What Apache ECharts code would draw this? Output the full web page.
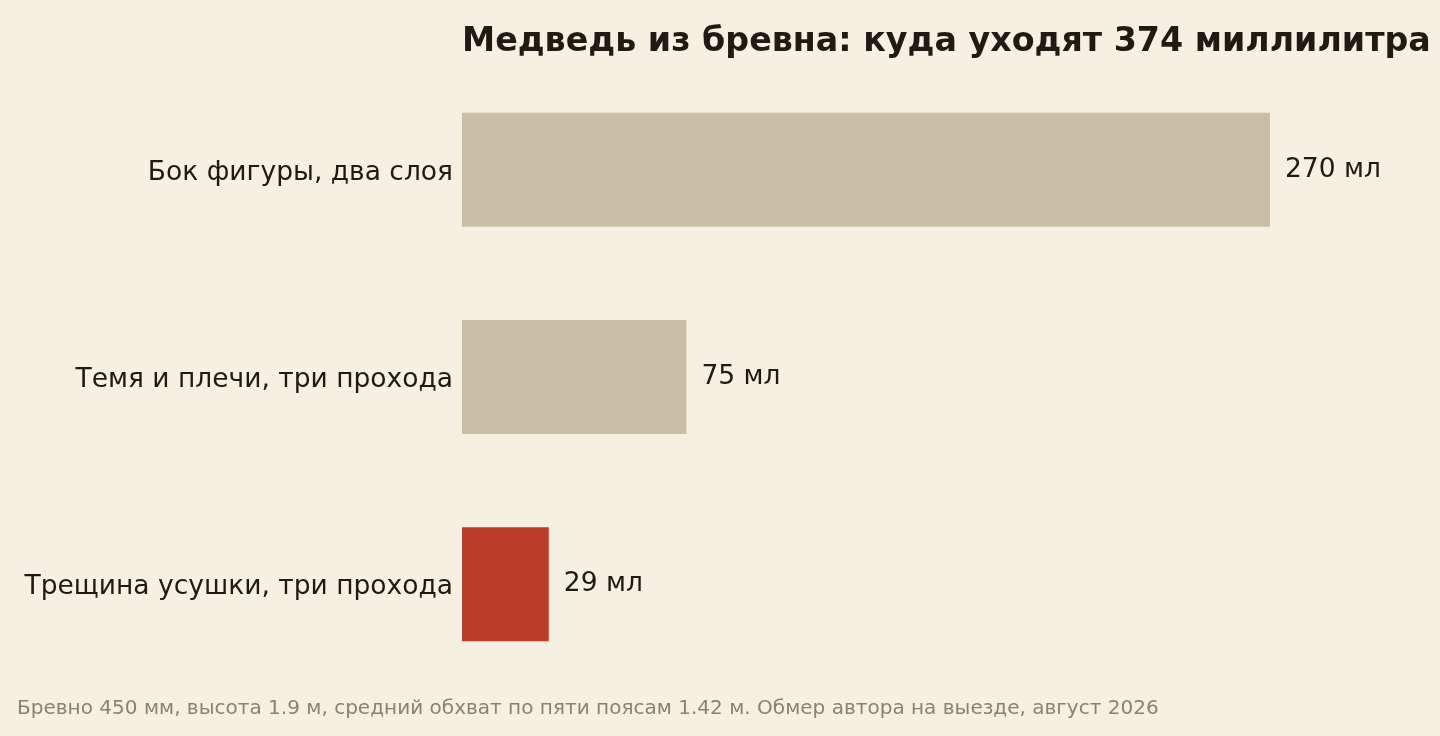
<!DOCTYPE html>
<html>
<head>
<meta charset="UTF-8">
<title>Медведь из бревна</title>
<script src="https://cdn.jsdelivr.net/npm/echarts@6/dist/echarts.min.js"></script>
<style>
    html, body { margin: 0; padding: 0; background: #f6f0e3; }
    #chart { width: 1440px; height: 736px; }
</style>
</head>
<body>
<div id="chart"></div>
<script>
    // данные
    var categories = ['Бок фигуры, два слоя', 'Темя и плечи, три прохода', 'Трещина усушки, три прохода'];
    var values = [270, 75, 29];
    var barColors = ['#c9bfa7', '#c9bfa7', '#bc3d27'];

    var chart = echarts.init(document.getElementById('chart'));
    var option = {
        backgroundColor: '#f6f0e3',
        textStyle: { fontFamily: 'DejaVu Sans' },
        title: [{
            text: 'Медведь из бревна: куда уходят 374 миллилитра',
            left: 457,
            top: 21,
            textStyle: { fontFamily: 'DejaVu Sans', fontSize: 33.3, fontWeight: 'bold', color: '#1f1a12' }
        }, {
            text: 'Бревно 450 мм, высота 1.9 м, средний обхват по пяти поясам 1.42 м. Обмер автора на выезде, август 2026',
            left: 12,
            top: 694,
            textStyle: { fontFamily: 'DejaVu Sans', fontSize: 20.05, fontWeight: 'normal', color: '#8a8272' }
        }],
        grid: { left: 462, right: 170, top: 66, bottom: 48, containLabel: false },
        xAxis: {
            type: 'value',
            min: 0,
            max: 270,
            show: false
        },
        yAxis: {
            type: 'category',
            data: categories,
            inverse: true,
            axisLine: { show: false },
            axisTick: { show: false },
            axisLabel: {
                margin: 9,
                formatter: function (v) { return '{c|' + v + '}'; },
                rich: {
                    c: { fontSize: 26.5, color: '#1f1a12', fontFamily: 'DejaVu Sans', padding: [6, 0, 0, 0] }
                }
            }
        },
        series: [{
            type: 'bar',
            barWidth: '55%',
            data: values.map(function (v, i) {
                return { value: v, itemStyle: { color: barColors[i] } };
            }),
            label: {
                show: true,
                position: 'right',
                distance: 15,
                fontSize: 26.5,
                color: '#1f1a12',
                formatter: '{c} мл'
            },
            silent: true
        }]
    };
    chart.setOption(option);
</script>
</body>
</html>
